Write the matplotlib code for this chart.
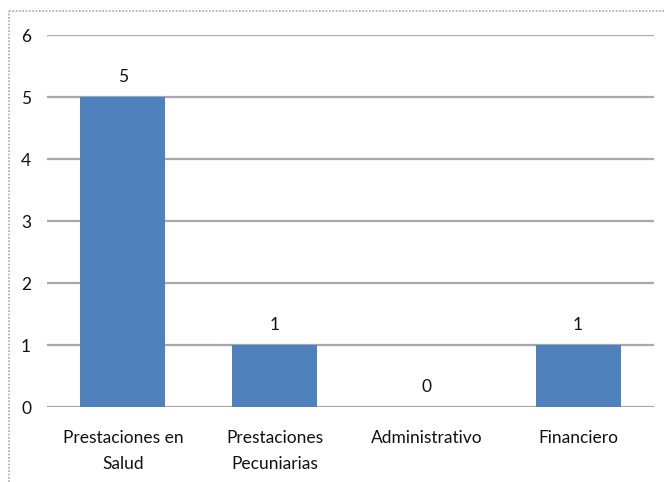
import matplotlib
matplotlib.use("Agg")
import matplotlib.pyplot as plt
from matplotlib.lines import Line2D

categories = ["Prestaciones en\nSalud", "Prestaciones\nPecuniarias", "Administrativo", "Financiero"]
values = [5, 1, 0, 1]
yticks = [0, 1, 2, 3, 4, 5, 6]

plt.rcParams['font.family'] = ['Lato', 'DejaVu Sans']
FS = 12.5
TXT = "#111111"

fig = plt.figure(figsize=(6.65, 4.82), dpi=100)
ax = fig.add_axes([47/665, 1-407/482, (654-47)/665, (407-35)/482])

x = range(len(categories))
bars = ax.bar(x, values, width=0.56, color="#4f81bd", zorder=3)
for xi, v in zip(x, values):
    ax.annotate(str(v), (xi, v), xytext=(0, 14.4), textcoords="offset points",
                ha="center", va="center", fontsize=FS, color=TXT)

ax.set_xlim(-0.5, len(categories) - 0.5)
ax.set_ylim(0, 6)
ax.set_yticks(yticks)
ax.set_yticklabels([str(t) for t in yticks], fontsize=FS, color=TXT)
ax.set_xticks(list(x))
ax.set_xticklabels(categories, fontsize=FS, color=TXT, linespacing=1.75)
ax.tick_params(axis="both", length=0)
ax.tick_params(axis="y", pad=11.5)
ax.tick_params(axis="x", pad=16.8)
ax.yaxis.grid(True, color="#a8a8a8", linewidth=1.6, zorder=0)
for s in ax.spines.values():
    s.set_visible(False)

# dotted chart border (top and left visible)
fig.add_artist(Line2D([9/665, 1.0], [1-11/482, 1-11/482], transform=fig.transFigure,
                      color="#a8a8a8", linestyle=(0, (1, 1)), linewidth=1.2))
fig.add_artist(Line2D([9/665, 9/665], [0, 1-11/482], transform=fig.transFigure,
                      color="#a8a8a8", linestyle=(0, (1, 1)), linewidth=1.2))

fig.savefig("out.png", dpi=100)
